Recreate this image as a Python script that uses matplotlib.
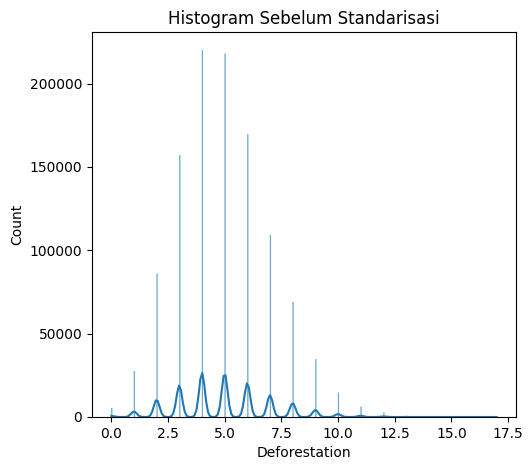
import numpy as np
import matplotlib
matplotlib.use("Agg")
import matplotlib.pyplot as plt

# Deforestation values (integers) and how many rows have each value
values = np.arange(0, 18)
counts = np.array([5400, 27500, 86000, 157000, 220000, 218000, 169500, 109000,
                   69000, 34600, 14500, 6200, 2600, 700, 250, 90, 30, 10])

title = "Histogram Sebelum Standarisasi"
x_label = "Deforestation"
y_label = "Count"

# Bins like numpy "auto" (Freedman-Diaconis) on the expanded data
n = counts.sum()
cum = np.cumsum(counts) / n
q1 = values[np.searchsorted(cum, 0.25)]
q3 = values[np.searchsorted(cum, 0.75)]
h = 2 * (q3 - q1) * n ** (-1 / 3)
n_bins = int(np.ceil((values.max() - values.min()) / h))
edges = np.linspace(values.min(), values.max(), n_bins + 1)
bin_w = edges[1] - edges[0]
idx = np.clip(np.searchsorted(edges, values, side="right") - 1, 0, n_bins - 1)
heights = np.zeros(n_bins)
np.add.at(heights, idx, counts)

# Gaussian KDE (Scott bandwidth), scaled to counts
mean = np.average(values, weights=counts)
std = np.sqrt(np.average((values - mean) ** 2, weights=counts))
bw = std * n ** (-1 / 5)
grid = np.linspace(values.min(), values.max(), 200)
gauss = np.exp(-0.5 * ((grid[:, None] - values[None, :]) / bw) ** 2) / (np.sqrt(2 * np.pi) * bw)
kde = (gauss * counts[None, :]).sum(axis=1) * bin_w

fig = plt.figure(figsize=(5.32, 4.7), dpi=100)
ax = fig.add_axes([92 / 532, 53 / 470, 424 / 532, 385 / 470])

# only the non-empty bins; a thin edge keeps each sub-pixel bar visible
nz = heights > 0
ax.bar(edges[:-1][nz], heights[nz], width=bin_w, align="edge", color="#1f77b4",
       alpha=0.55, linewidth=0.3, edgecolor="#1f77b4", snap=False)
ax.plot(grid, kde, color="#1f77b4", linewidth=1.5)

ax.set_xlim(-0.85, 17.85)
ax.set_ylim(0, heights.max() * 1.05)
ax.set_title(title)
ax.set_xlabel(x_label)
ax.set_ylabel(y_label)

plt.savefig("out.png", dpi=100)
plt.close()
